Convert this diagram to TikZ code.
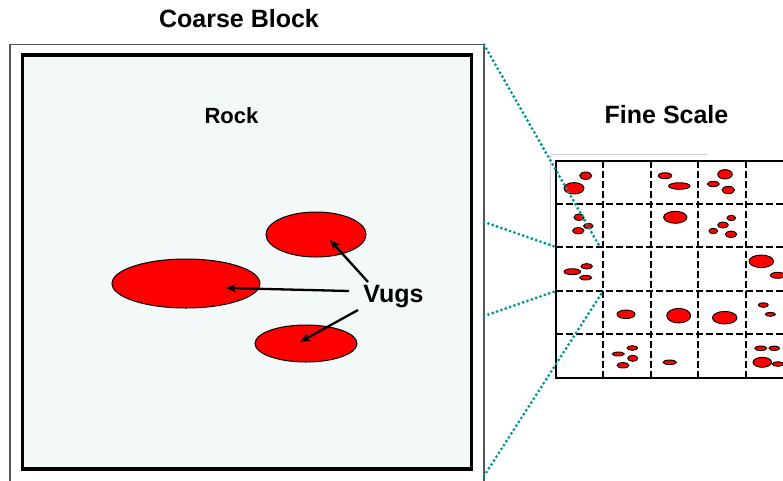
\documentclass[tikz,border=0pt]{standalone}
\usepackage{fontspec}
\setmainfont{Liberation Sans}
\usetikzlibrary{shapes.geometric,arrows.meta}
\definecolor{teal1}{RGB}{0,150,150}
\definecolor{rockfill}{RGB}{243,248,248}
\definecolor{faint}{RGB}{208,208,208}
\definecolor{edgegray}{RGB}{85,85,85}
\tikzset{
  vug/.style={ellipse, draw=black, line width=1pt, fill=red, inner sep=0pt},
  finevug/.style={ellipse, draw=black, line width=0.9pt, fill=red, inner sep=0pt},
  title/.style={font=\bfseries\fontsize{25}{30}\selectfont, inner sep=0pt, anchor=base},
  zoomline/.style={draw=teal1, line width=3.2pt, line cap=round, dash pattern=on 0pt off 4.6pt},
  gridline/.style={line width=2.4pt, dash pattern=on 6.5pt off 3.5pt},
  pointer/.style={line width=2.3pt, -{Stealth[length=10pt,width=8pt]}}
}
\begin{document}
\begin{tikzpicture}[x=1pt,y=-1pt]
\useasboundingbox (0,0) rectangle (783,480);
\clip (0,0) rectangle (783,480);
\fill[white] (0,0) rectangle (783,480);
% coarse block
\draw[draw=edgegray, line width=1.4pt] (10,486) -- (10,44.7) -- (484,44.7) -- (484,486);
\coordinate (cbTR) at (484,44.7);
\coordinate (cbR1) at (484,222);
\coordinate (cbR2) at (484,316);
\coordinate (cbBR) at (484,476);
\draw[line width=3.5pt, fill=rockfill] (22.7,55) rectangle (471.7,469);
\node[title] (ct) at (239,27.3) {Coarse Block};
\node[title, font=\bfseries\fontsize{22}{26}\selectfont] (rock) at (231.5,123) {Rock};
% vugs
\node[vug, minimum width=100pt, minimum height=45pt] (v1) at (316,234.5) {};
\node[vug, minimum width=148pt, minimum height=49pt] (v2) at (186,283.5) {};
\node[vug, minimum width=102pt, minimum height=37pt] (v3) at (306,343.5) {};
\node[title] (vugs) at (393.5,302.7) {Vugs};
\coordinate (s1) at (368,282);
\coordinate (s2) at (349,291);
\coordinate (s3) at (358,310);
\coordinate (t1) at (330,240);
\coordinate (t2) at (226,288);
\coordinate (t3) at (300,342);
\draw[pointer] (s1) -- (t1);
\draw[pointer] (s2) -- (t2);
\draw[pointer] (s3) -- (t3);
% fine scale
\node[title] (fs) at (666.5,123.3) {Fine Scale};
\draw[faint, line width=1pt] (550,247) -- (550,154) -- (707,154);
\fill[white] (556,161) rectangle (800,378);
\foreach \x/\y/\rx/\ry [count=\i] in {
  574/188.3/10/5.7, 585.7/175.7/6/3.7,
  665/175.7/6.7/3, 679.3/186/10.7/3.3,
  725/174.3/7.3/4.7, 713.3/184/6/2.7, 728.3/190/6.3/3.7,
  579/217.3/5/3.3, 588.3/226/4.7/2.7, 578.3/230.7/5.7/3.3,
  675.3/217.3/11.7/6,
  731.3/218/4.3/2.7, 723/225/5.3/3, 713.3/231/4.3/2.7, 731/234.3/5.7/3.3,
  572.3/271.7/8.3/3, 586.7/266.3/5.7/2.7, 585.7/277.7/6/2.3,
  761.3/261.3/12.3/6.3, 777.7/275.3/7.3/3,
  626/314.3/9/4.3, 678.7/315.7/12/7.3, 724.7/317.7/12.3/6.3,
  763.3/305/5/2.3, 770.3/314.3/5/2,
  632.3/348/5.3/2.3, 618.3/354/6/2, 632.7/358.3/5/3, 623/365.3/6/2.7,
  669.7/362.3/6.7/2.3,
  760.7/348.3/6/2.3, 774.3/348.3/5.3/2.3, 762.3/362.3/9.3/5, 778/364/5.7/2.3}
  \node[finevug, minimum width=2*\rx pt, minimum height=2*\ry pt] (f\i) at (\x,\y) {};
\foreach \x in {603,651,698,746}
  \draw[gridline] (\x,161) -- (\x,378);
\foreach \y in {204,247,291,334}
  \draw[gridline] (556,\y) -- (800,\y);
\draw[line width=2.2pt] (800,161) -- (556,161) -- (556,378) -- (800,378);
\coordinate (g1) at (600,247);
\coordinate (g2) at (556,247);
\coordinate (g3) at (556,291);
\coordinate (g4) at (603,291);
% zoom lines
\draw[zoomline] (cbTR) -- (g1);
\draw[zoomline] (cbR1) -- (g2);
\draw[zoomline] (cbR2) -- (g3);
\draw[zoomline] (cbBR) -- (g4);
\end{tikzpicture}
\end{document}
